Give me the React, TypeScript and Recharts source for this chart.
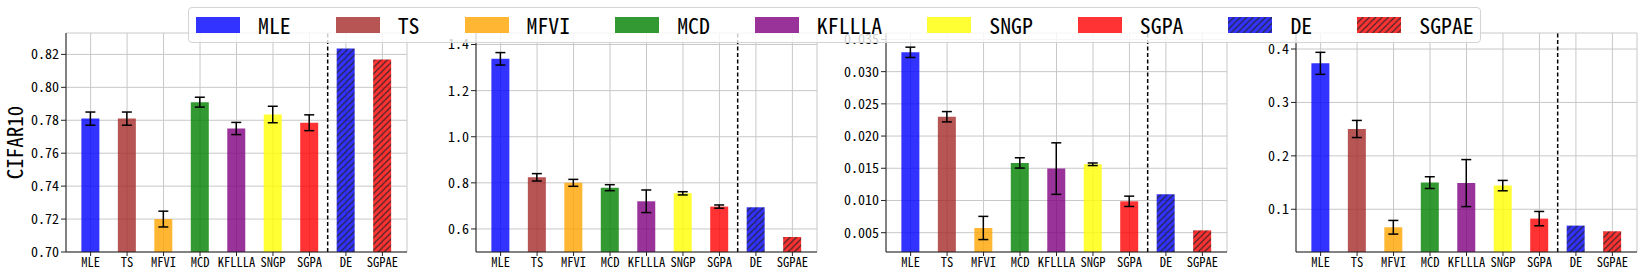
import React from 'react';
import { BarChart, Bar, XAxis, YAxis, CartesianGrid, Cell, ErrorBar, ReferenceLine } from 'recharts';

const FONT = "'Noto Sans Mono CJK SC', 'Noto Sans CJK SC', sans-serif";

const categories = ['MLE', 'TS', 'MFVI', 'MCD', 'KFLLLA', 'SNGP', 'SGPA', 'DE', 'SGPAE'];
const baseColors = ['#0000ff', '#a52a2a', '#ffa500', '#008000', '#800080', '#ffff00', '#ff0000', '#0000ff', '#ff0000'];
const hatched = [false, false, false, false, false, false, false, true, true];

const accValues = [0.781, 0.781, 0.72, 0.791, 0.775, 0.7835, 0.7785, 0.8236, 0.8169];
const accErrors = [0.004, 0.004, 0.0048, 0.003, 0.0037, 0.005, 0.0048, null, null];
const accTicks = [0.7, 0.72, 0.74, 0.76, 0.78, 0.8, 0.82];

const nllValues = [1.338, 0.824, 0.8, 0.779, 0.72, 0.7545, 0.697, 0.694, 0.565];
const nllErrors = [0.027, 0.016, 0.015, 0.013, 0.049, 0.007, 0.007, null, null];
const nllTicks = [0.6, 0.8, 1.0, 1.2, 1.4];

const eceValues = [0.033, 0.023, 0.00573, 0.01583, 0.01495, 0.01562, 0.00987, 0.01096, 0.00536];
const eceErrors = [0.0008, 0.0008, 0.0018, 0.0008, 0.004, 0.0002, 0.0008, null, null];
const eceTicks = [0.005, 0.01, 0.015, 0.02, 0.025, 0.03, 0.035];

const bsValues = [0.3732, 0.2503, 0.0663, 0.1499, 0.149, 0.1443, 0.0825, 0.0694, 0.0588];
const bsErrors = [0.0206, 0.016, 0.0128, 0.011, 0.044, 0.0097, 0.0134, null, null];
const bsTicks = [0.1, 0.2, 0.3, 0.4];

const xDomain: [number, number] = [-0.675, categories.length - 1 + 0.675];
const xTicks = categories.map((_, i) => i);
const splitAt = categories.indexOf('DE') - 0.5;

const HATCH = 6.3;

function HatchPattern({ id, color }: { id: string; color: string }) {
  const line = { stroke: '#222', strokeWidth: 1.2, strokeOpacity: 0.85 };
  return (
    <pattern id={id} patternUnits="userSpaceOnUse" width={HATCH} height={HATCH}>
      <rect x={0} y={0} width={HATCH} height={HATCH} fill={color} fillOpacity={0.8} />
      <line x1={0} y1={HATCH} x2={HATCH} y2={0} {...line} />
      <line x1={-1} y1={1} x2={1} y2={-1} {...line} />
      <line x1={HATCH - 1} y1={HATCH + 1} x2={HATCH + 1} y2={HATCH - 1} {...line} />
    </pattern>
  );
}

type PanelProps = {
  idx: number;
  plotLeft: number;
  values: number[];
  errors: (number | null)[];
  domain: [number, number];
  ticks: number[];
  digits: number;
  label?: string;
};

function Panel({ idx, plotLeft, values, errors, domain, ticks, digits, label }: PanelProps) {
  const data = categories.map((c, i) => ({ x: i, name: c, v: values[i], e: errors[i] }));
  const yLabel = label
    ? (props: any) => {
        const vb = props.viewBox;
        const cx = vb.x + 14;
        const cy = vb.y + vb.height / 2;
        return (
          <text x={cx} y={cy} transform={`rotate(-90, ${cx}, ${cy})`} textAnchor="middle" dominantBaseline="central"
            fontSize={21} fontFamily={FONT} fill="#000">{label}</text>
        );
      }
    : undefined;
  return (
    <div style={{ position: 'absolute', left: plotLeft - 66, top: 0 }}>
      <BarChart width={414} height={277} data={data} margin={{ top: 33, right: 7, bottom: 0, left: 0 }}>
        <defs>
          {categories.map((c, i) =>
            hatched[i] ? <HatchPattern key={c} id={`h${idx}-${i}`} color={baseColors[i]} /> : null
          )}
        </defs>
        <CartesianGrid stroke="#c8c8c8" strokeWidth={1} />
        <XAxis
          dataKey="x"
          type="number"
          domain={xDomain}
          ticks={xTicks}
          interval={0}
          allowDataOverflow
          tickFormatter={(i: number) => categories[i]}
          height={25}
          tickSize={4}
          tickMargin={2}
          axisLine={{ stroke: '#222' }}
          tickLine={{ stroke: '#222' }}
          tick={{ fontSize: 12.5, fontFamily: FONT, fill: '#000' }}
        />
        <XAxis xAxisId="top" orientation="top" type="number" dataKey="x" domain={xDomain} allowDataOverflow
          tick={false} tickLine={false} height={0} axisLine={{ stroke: '#222' }} />
        <YAxis
          type="number"
          domain={domain}
          ticks={ticks}
          allowDataOverflow
          width={66}
          tickSize={5}
          tickMargin={2}
          axisLine={{ stroke: '#222' }}
          tickLine={{ stroke: '#222' }}
          tickFormatter={(v: number) => v.toFixed(digits)}
          tick={{ fontSize: 14, fontFamily: FONT, fill: '#000' }}
          label={yLabel ? { content: yLabel } : undefined}
        />
        <YAxis yAxisId="right" orientation="right" type="number" domain={domain} allowDataOverflow
          tick={false} tickLine={false} width={0} axisLine={{ stroke: '#222' }} />
        <Bar dataKey="v" barSize={18} isAnimationActive={false}>
          {data.map((d, i) => (
            <Cell key={d.name} fill={hatched[i] ? `url(#h${idx}-${i})` : baseColors[i]} fillOpacity={hatched[i] ? 1 : 0.8} />
          ))}
          <ErrorBar dataKey="e" width={5} stroke="#000" strokeWidth={1.5} isAnimationActive={false} />
        </Bar>
        <ReferenceLine x={splitAt} stroke="#000" strokeWidth={1.5} strokeDasharray="4 2.5" />
      </BarChart>
    </div>
  );
}

function LegendPatch({ i }: { i: number }) {
  const id = `lg-${i}`;
  return (
    <svg width={44} height={16} style={{ display: 'block', marginRight: 18, flex: 'none' }}>
      {hatched[i] ? (
        <>
          <defs>
            <HatchPattern id={id} color={baseColors[i]} />
          </defs>
          <rect x={0} y={0} width={44} height={16} fill={`url(#${id})`} />
        </>
      ) : (
        <rect x={0} y={0} width={44} height={16} fill={baseColors[i]} fillOpacity={0.8} />
      )}
    </svg>
  );
}

export default function App() {
  return (
    <div style={{ position: 'absolute', left: 0, top: 0, width: 1644, height: 277, background: '#fff', fontFamily: FONT }}>
      <Panel idx={0} plotLeft={66} values={accValues} errors={accErrors} domain={[0.7, 0.833]} ticks={accTicks} digits={2} label="CIFAR10" />
      <Panel idx={1} plotLeft={476} values={nllValues} errors={nllErrors} domain={[0.5, 1.45]} ticks={nllTicks} digits={1} />
      <Panel idx={2} plotLeft={886} values={eceValues} errors={eceErrors} domain={[0.002, 0.036]} ticks={eceTicks} digits={3} />
      <Panel idx={3} plotLeft={1296} values={bsValues} errors={bsErrors} domain={[0.02, 0.43]} ticks={bsTicks} digits={1} />
      <div
        style={{
          position: 'absolute', left: 188, top: 7, width: 1293, height: 36, boxSizing: 'border-box',
          border: '1px solid #d4d4d4', borderRadius: 4, background: 'rgba(255,255,255,0.8)',
          display: 'flex', alignItems: 'center', paddingLeft: 7,
        }}
      >
        {categories.map((c, i) => (
          <div key={c} style={{ display: 'flex', alignItems: 'center', marginRight: i === categories.length - 1 ? 0 : 45 }}>
            <LegendPatch i={i} />
            <span style={{ fontSize: 21.8, lineHeight: '22px', color: '#000', whiteSpace: 'nowrap' }}>{c}</span>
          </div>
        ))}
      </div>
    </div>
  );
}
